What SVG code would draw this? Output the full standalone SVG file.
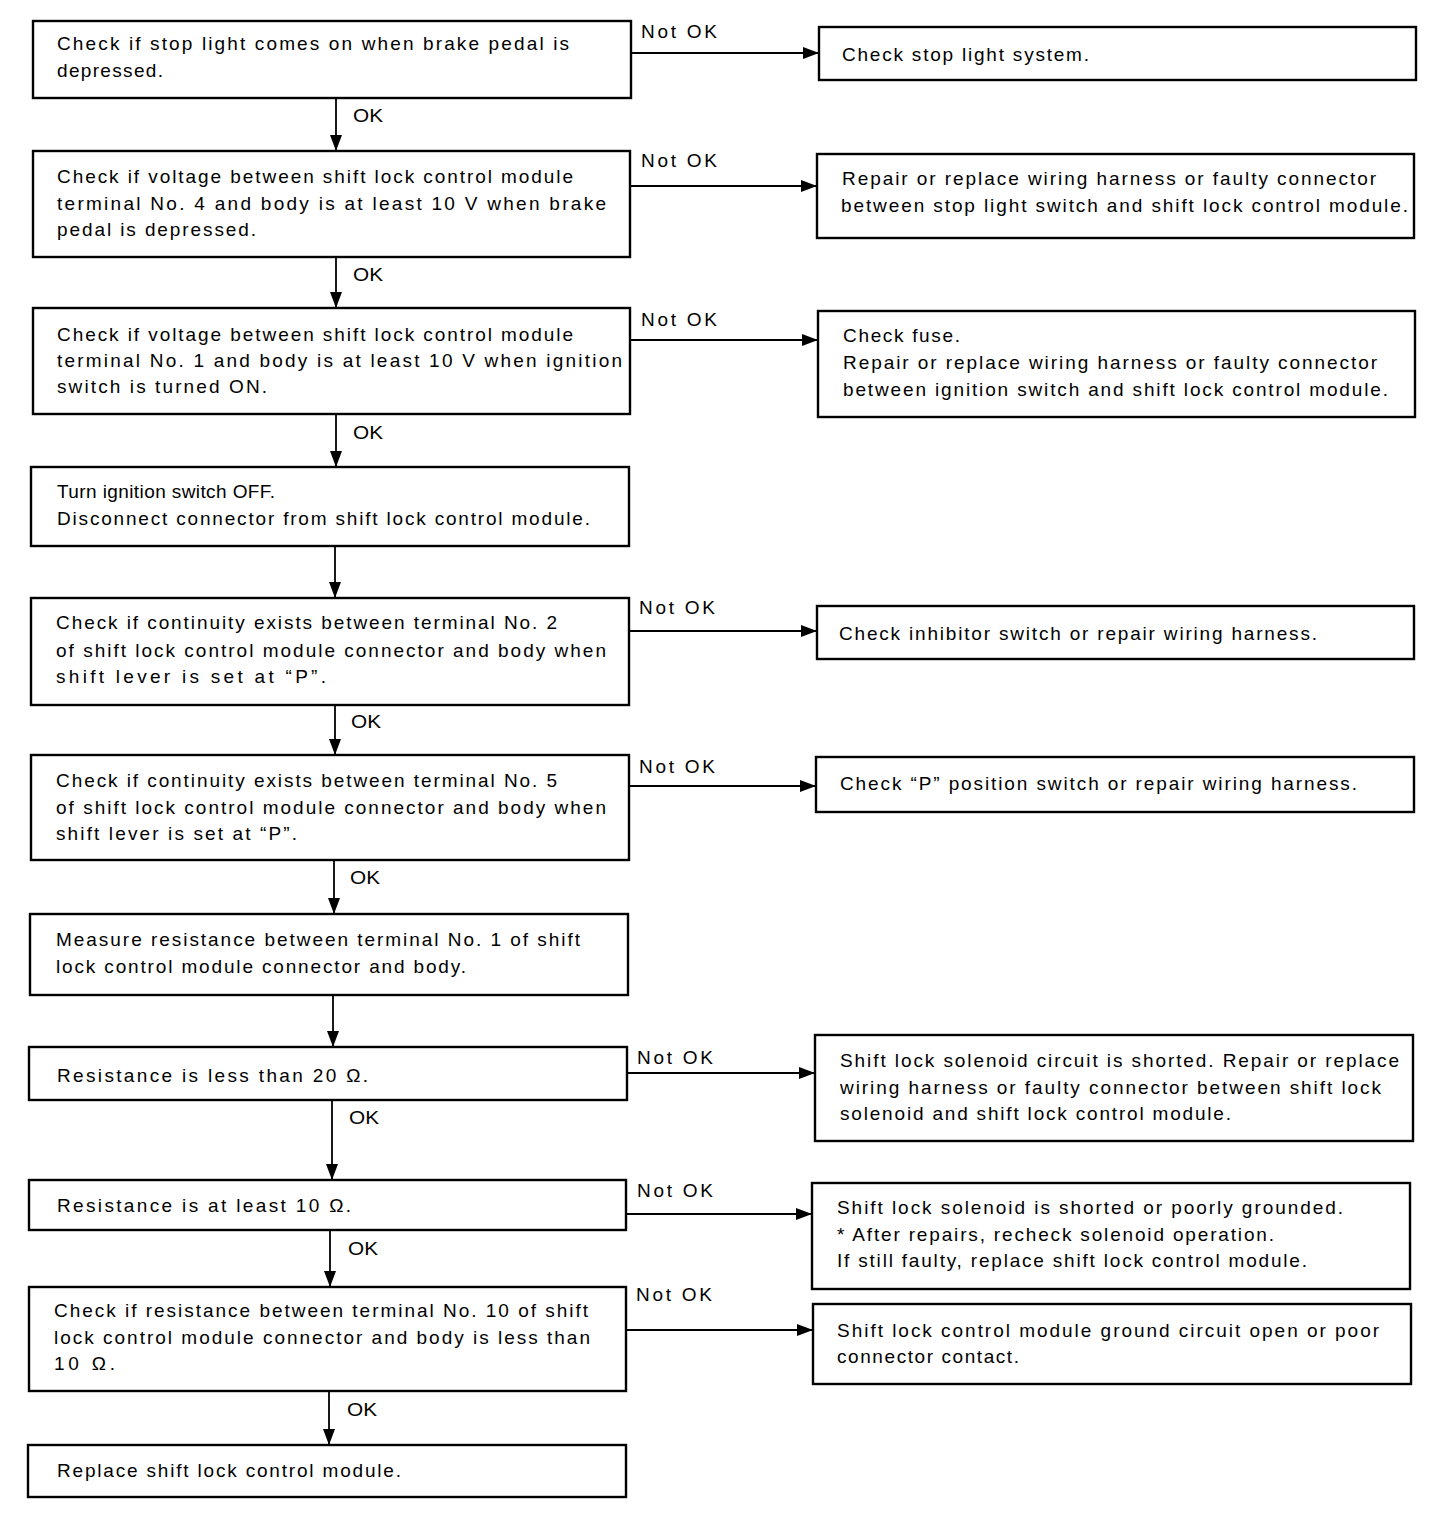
<svg xmlns="http://www.w3.org/2000/svg" width="1456" height="1540" viewBox="0 0 1456 1540">
<style>
.box{fill:#fff;stroke:#000;stroke-width:2.4}
.t{font-family:"Liberation Sans",Arial,sans-serif;font-size:19px;fill:#000}
.c{stroke:#000;stroke-width:1.8;fill:none;marker-end:url(#ah)}
</style>
<defs>
<marker id="ah" markerUnits="userSpaceOnUse" markerWidth="17" markerHeight="12" refX="16" refY="6" orient="auto">
<path d="M0,0 L16,6 L0,12 z" fill="#000"/>
</marker>
</defs>
<rect width="1456" height="1540" fill="#fff"/>
<g id="connectors">
<line class="c" x1="336" y1="99" x2="336" y2="151"/>
<line class="c" x1="336" y1="258" x2="336" y2="308"/>
<line class="c" x1="336" y1="415" x2="336" y2="467"/>
<line class="c" x1="335" y1="547" x2="335" y2="598"/>
<line class="c" x1="335" y1="706" x2="335" y2="755"/>
<line class="c" x1="334" y1="861" x2="334" y2="914"/>
<line class="c" x1="333" y1="996" x2="333" y2="1047"/>
<line class="c" x1="332" y1="1101" x2="332" y2="1180"/>
<line class="c" x1="330" y1="1231" x2="330" y2="1287"/>
<line class="c" x1="329" y1="1392" x2="329" y2="1445"/>
<line class="c" x1="632" y1="53" x2="819" y2="53"/>
<line class="c" x1="631" y1="186" x2="817" y2="186"/>
<line class="c" x1="631" y1="340" x2="818" y2="340"/>
<line class="c" x1="630" y1="631" x2="817" y2="631"/>
<line class="c" x1="630" y1="786" x2="816" y2="786"/>
<line class="c" x1="628" y1="1073" x2="815" y2="1073"/>
<line class="c" x1="627" y1="1214" x2="812" y2="1214"/>
<line class="c" x1="627" y1="1330" x2="813" y2="1330"/>
<text class="t" x="353" y="122" textLength="30" lengthAdjust="spacingAndGlyphs">OK</text>
<text class="t" x="353" y="281" textLength="30" lengthAdjust="spacingAndGlyphs">OK</text>
<text class="t" x="353" y="439" textLength="30" lengthAdjust="spacingAndGlyphs">OK</text>
<text class="t" x="351" y="728" textLength="30" lengthAdjust="spacingAndGlyphs">OK</text>
<text class="t" x="350" y="884" textLength="30" lengthAdjust="spacingAndGlyphs">OK</text>
<text class="t" x="349" y="1124" textLength="30" lengthAdjust="spacingAndGlyphs">OK</text>
<text class="t" x="348" y="1255" textLength="30" lengthAdjust="spacingAndGlyphs">OK</text>
<text class="t" x="347" y="1416" textLength="30" lengthAdjust="spacingAndGlyphs">OK</text>
<text class="t" x="641" y="38" textLength="76" lengthAdjust="spacing">Not OK</text>
<text class="t" x="641" y="167" textLength="76" lengthAdjust="spacing">Not OK</text>
<text class="t" x="641" y="326" textLength="76" lengthAdjust="spacing">Not OK</text>
<text class="t" x="639" y="614" textLength="76" lengthAdjust="spacing">Not OK</text>
<text class="t" x="639" y="773" textLength="76" lengthAdjust="spacing">Not OK</text>
<text class="t" x="637" y="1064" textLength="76" lengthAdjust="spacing">Not OK</text>
<text class="t" x="637" y="1197" textLength="76" lengthAdjust="spacing">Not OK</text>
<text class="t" x="636" y="1301" textLength="76" lengthAdjust="spacing">Not OK</text>
</g>
<g id="n1"><rect class="box" x="33" y="21" width="598" height="77"/>
<text class="t" x="57" y="50" textLength="512" lengthAdjust="spacing">Check if stop light comes on when brake pedal is</text>
<text class="t" x="57" y="77" textLength="106" lengthAdjust="spacing">depressed.</text></g>
<g id="n2"><rect class="box" x="33" y="151" width="597" height="106"/>
<text class="t" x="57" y="183" textLength="516" lengthAdjust="spacing">Check if voltage between shift lock control module</text>
<text class="t" x="57" y="210" textLength="549" lengthAdjust="spacing">terminal No. 4 and body is at least 10 V when brake</text>
<text class="t" x="57" y="236" textLength="199" lengthAdjust="spacing">pedal is depressed.</text></g>
<g id="n3"><rect class="box" x="33" y="308" width="597" height="106"/>
<text class="t" x="57" y="341" textLength="516" lengthAdjust="spacing">Check if voltage between shift lock control module</text>
<text class="t" x="57" y="367" textLength="565" lengthAdjust="spacing">terminal No. 1 and body is at least 10 V when ignition</text>
<text class="t" x="57" y="393" textLength="210" lengthAdjust="spacing">switch is turned ON.</text></g>
<g id="n4"><rect class="box" x="31" y="467" width="598" height="79"/>
<text class="t" x="57" y="498" textLength="218" lengthAdjust="spacing">Turn ignition switch OFF.</text>
<text class="t" x="57" y="525" textLength="533" lengthAdjust="spacing">Disconnect connector from shift lock control module.</text></g>
<g id="n5"><rect class="box" x="31" y="598" width="598" height="107"/>
<text class="t" x="56" y="629" textLength="501" lengthAdjust="spacing">Check if continuity exists between terminal No. 2</text>
<text class="t" x="56" y="657" textLength="550" lengthAdjust="spacing">of shift lock control module connector and body when</text>
<text class="t" x="56" y="683" textLength="270" lengthAdjust="spacing">shift lever is set at “P”.</text></g>
<g id="n6"><rect class="box" x="31" y="755" width="598" height="105"/>
<text class="t" x="56" y="787" textLength="501" lengthAdjust="spacing">Check if continuity exists between terminal No. 5</text>
<text class="t" x="56" y="814" textLength="550" lengthAdjust="spacing">of shift lock control module connector and body when</text>
<text class="t" x="56" y="840" textLength="241" lengthAdjust="spacing">shift lever is set at “P”.</text></g>
<g id="n7"><rect class="box" x="30" y="914" width="598" height="81"/>
<text class="t" x="56" y="946" textLength="524" lengthAdjust="spacing">Measure resistance between terminal No. 1 of shift</text>
<text class="t" x="56" y="973" textLength="410" lengthAdjust="spacing">lock control module connector and body.</text></g>
<g id="n8"><rect class="box" x="29" y="1047" width="598" height="53"/>
<text class="t" x="57" y="1082" textLength="311" lengthAdjust="spacing">Resistance is less than 20 Ω.</text></g>
<g id="n9"><rect class="box" x="29" y="1180" width="597" height="50"/>
<text class="t" x="57" y="1212" textLength="294" lengthAdjust="spacing">Resistance is at least 10 Ω.</text></g>
<g id="n10"><rect class="box" x="29" y="1287" width="597" height="104"/>
<text class="t" x="54" y="1317" textLength="534" lengthAdjust="spacing">Check if resistance between terminal No. 10 of shift</text>
<text class="t" x="54" y="1344" textLength="536" lengthAdjust="spacing">lock control module connector and body is less than</text>
<text class="t" x="54" y="1370" textLength="61" lengthAdjust="spacing">10 Ω.</text></g>
<g id="n11"><rect class="box" x="28" y="1445" width="598" height="52"/>
<text class="t" x="57" y="1477" textLength="344" lengthAdjust="spacing">Replace shift lock control module.</text></g>
<g id="r1"><rect class="box" x="819" y="27" width="597" height="53"/>
<text class="t" x="842" y="61" textLength="247" lengthAdjust="spacing">Check stop light system.</text></g>
<g id="r2"><rect class="box" x="817" y="154" width="597" height="84"/>
<text class="t" x="842" y="185" textLength="534" lengthAdjust="spacing">Repair or replace wiring harness or faulty connector</text>
<text class="t" x="841" y="212" textLength="567" lengthAdjust="spacing">between stop light switch and shift lock control module.</text></g>
<g id="r3"><rect class="box" x="818" y="311" width="597" height="106"/>
<text class="t" x="843" y="342" textLength="117" lengthAdjust="spacing">Check fuse.</text>
<text class="t" x="843" y="369" textLength="534" lengthAdjust="spacing">Repair or replace wiring harness or faulty connector</text>
<text class="t" x="843" y="396" textLength="545" lengthAdjust="spacing">between ignition switch and shift lock control module.</text></g>
<g id="r5"><rect class="box" x="817" y="606" width="597" height="53"/>
<text class="t" x="839" y="640" textLength="478" lengthAdjust="spacing">Check inhibitor switch or repair wiring harness.</text></g>
<g id="r6"><rect class="box" x="816" y="757" width="598" height="55"/>
<text class="t" x="840" y="790" textLength="517" lengthAdjust="spacing">Check “P” position switch or repair wiring harness.</text></g>
<g id="r8"><rect class="box" x="815" y="1035" width="598" height="106"/>
<text class="t" x="840" y="1067" textLength="559" lengthAdjust="spacing">Shift lock solenoid circuit is shorted. Repair or replace</text>
<text class="t" x="840" y="1094" textLength="541" lengthAdjust="spacing">wiring harness or faulty connector between shift lock</text>
<text class="t" x="840" y="1120" textLength="391" lengthAdjust="spacing">solenoid and shift lock control module.</text></g>
<g id="r9"><rect class="box" x="812" y="1183" width="598" height="106"/>
<text class="t" x="837" y="1214" textLength="506" lengthAdjust="spacing">Shift lock solenoid is shorted or poorly grounded.</text>
<text class="t" x="837" y="1241" textLength="437" lengthAdjust="spacing">* After repairs, recheck solenoid operation.</text>
<text class="t" x="837" y="1267" textLength="470" lengthAdjust="spacing">If still faulty, replace shift lock control module.</text></g>
<g id="r10"><rect class="box" x="813" y="1304" width="598" height="80"/>
<text class="t" x="837" y="1337" textLength="542" lengthAdjust="spacing">Shift lock control module ground circuit open or poor</text>
<text class="t" x="837" y="1363" textLength="182" lengthAdjust="spacing">connector contact.</text></g>
</svg>
